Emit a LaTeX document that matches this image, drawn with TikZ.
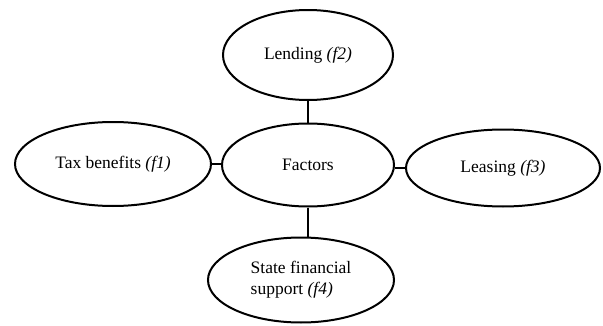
\documentclass[tikz,border=0pt]{standalone}
\usepackage{fontspec}
\setmainfont{Liberation Serif}
\usetikzlibrary{shapes.geometric}
\begin{document}
\begin{tikzpicture}[x=1pt,y=1pt,
  oval/.style={ellipse,draw=black,line width=2pt,inner sep=0pt,font=\fontsize{17.5}{21}\selectfont},
  link/.style={draw=black,line width=2pt}]
\useasboundingbox (0,0) rectangle (603,325);
\node[oval,minimum width=170pt,minimum height=90pt] (f2) at (308,270) {Lending \textit{(f2)}};
\node[oval,minimum width=172pt,minimum height=83pt] (fac) at (308,160) {Factors};
\node[oval,minimum width=196pt,minimum height=84pt] (f1) at (113,161) {Tax benefits \textit{(f1)}};
\node[oval,minimum width=194pt,minimum height=77pt] (f3) at (503,157) {Leasing \textit{(f3)}};
\node[oval,minimum width=186pt,minimum height=85pt,align=left] (f4) at (301,45) {State financial\\support \textit{(f4)}};
\draw[link] (f2.south) -- (fac.north);
\draw[link] (f1.east) -- (f1.east -| fac.west);
\draw[link] (fac.east |- f3.west) -- (f3.west);
\draw[link] (fac.south) -- (fac.south |- f4.north);
\end{tikzpicture}
\end{document}
